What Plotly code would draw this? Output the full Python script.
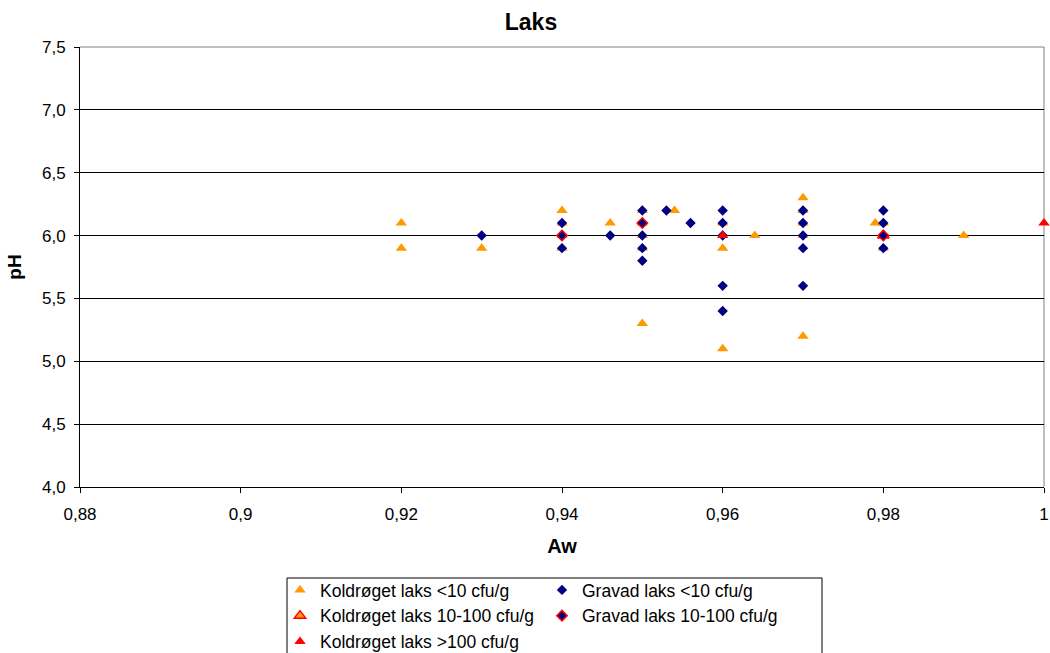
import plotly.graph_objects as go

# ---- data ----
kold_lt10_aw = [0.92, 0.92, 0.93, 0.94, 0.94, 0.94, 0.94, 0.946, 0.95, 0.95, 0.95, 0.95, 0.95,
                0.954, 0.96, 0.96, 0.96, 0.964, 0.97, 0.97, 0.97, 0.97, 0.97, 0.979, 0.98, 0.98, 0.99]
kold_lt10_ph = [6.1, 5.9, 5.9, 6.2, 6.1, 6.0, 5.9, 6.1, 6.2, 6.1, 6.0, 5.9, 5.3,
                6.2, 6.1, 5.9, 5.1, 6.0, 6.3, 6.2, 6.1, 6.0, 5.2, 6.1, 6.1, 5.9, 6.0]

grav_lt10_aw = [0.93, 0.94, 0.94, 0.946, 0.95, 0.95, 0.95, 0.95, 0.953, 0.956,
                0.96, 0.96, 0.96, 0.96, 0.96, 0.97, 0.97, 0.97, 0.97, 0.97, 0.98, 0.98, 0.98]
grav_lt10_ph = [6.0, 6.1, 5.9, 6.0, 6.2, 6.0, 5.9, 5.8, 6.2, 6.1,
                6.2, 6.1, 6.0, 5.6, 5.4, 6.2, 6.1, 6.0, 5.9, 5.6, 6.2, 6.1, 5.9]

kold_10_100_aw = [0.98]
kold_10_100_ph = [6.0]

grav_10_100_aw = [0.94, 0.95, 0.98]
grav_10_100_ph = [6.0, 6.1, 6.0]

kold_gt100_aw = [0.96, 1.0]
kold_gt100_ph = [6.0, 6.1]

x_tickvals = [0.88, 0.90, 0.92, 0.94, 0.96, 0.98, 1.0]
x_ticktext = ["0,88", "0,9", "0,92", "0,94", "0,96", "0,98", "1"]
y_tickvals = [4.0, 4.5, 5.0, 5.5, 6.0, 6.5, 7.0, 7.5]
y_ticktext = ["4,0", "4,5", "5,0", "5,5", "6,0", "6,5", "7,0", "7,5"]

ORANGE = "#FF9900"
NAVY = "#000080"
RED = "#FF0000"
FONT = "Liberation Sans, Arial, sans-serif"

fig = go.Figure()

fig.add_trace(go.Scatter(
    x=kold_lt10_aw, y=kold_lt10_ph, mode="markers", name="Koldrøget laks <10 cfu/g",
    marker=dict(symbol="triangle-up", size=10, color=ORANGE, line=dict(width=0)),
    legend="legend", cliponaxis=False))
fig.add_trace(go.Scatter(
    x=grav_lt10_aw, y=grav_lt10_ph, mode="markers", name="Gravad laks <10 cfu/g",
    marker=dict(symbol="diamond", size=8, color=NAVY, line=dict(width=0)),
    legend="legend2", cliponaxis=False))
fig.add_trace(go.Scatter(
    x=kold_10_100_aw, y=kold_10_100_ph, mode="markers", name="Koldrøget laks 10-100 cfu/g",
    marker=dict(symbol="triangle-up", size=10, color=ORANGE, line=dict(width=1.5, color=RED)),
    legend="legend", cliponaxis=False))
fig.add_trace(go.Scatter(
    x=grav_10_100_aw, y=grav_10_100_ph, mode="markers", name="Gravad laks 10-100 cfu/g",
    marker=dict(symbol="diamond", size=8, color=NAVY, line=dict(width=1.5, color=RED)),
    legend="legend2", cliponaxis=False))
fig.add_trace(go.Scatter(
    x=kold_gt100_aw, y=kold_gt100_ph, mode="markers", name="Koldrøget laks >100 cfu/g",
    marker=dict(symbol="triangle-up", size=10, color=RED, line=dict(width=0)),
    legend="legend", cliponaxis=False))

PW = 964.0
PH = 440.0

def px_x(p):
    return (p - 80) / PW

def px_y(p):
    return (487 - p) / PH

legend_common = dict(
    orientation="v", xanchor="left", yanchor="top",
    bgcolor="rgba(0,0,0,0)", borderwidth=0,
    font=dict(family=FONT, size=17.5, color="black"),
    tracegroupgap=0, itemwidth=30, traceorder="normal",
)

fig.update_layout(
    width=1050, height=653,
    margin=dict(l=80, r=6, t=47, b=166, autoexpand=False),
    paper_bgcolor="white", plot_bgcolor="white",
    font=dict(family=FONT, size=17, color="black"),
    title=dict(text="<b>Laks</b>", x=531 / 1050, xanchor="center", y=1 - 22 / 653,
               yanchor="middle", yref="container", font=dict(size=23, family=FONT)),
    xaxis=dict(range=[0.88, 1.0], tickvals=x_tickvals, ticktext=x_ticktext,
               showgrid=False, zeroline=False, showline=True, linecolor="black", linewidth=1,
               ticks="outside", ticklen=5, tickcolor="black",
               tickfont=dict(size=17), ticklabelstandoff=7,
               title=dict(text="<b>Aw</b>", font=dict(size=20), standoff=15)),
    yaxis=dict(range=[4.0, 7.5], tickvals=y_tickvals, ticktext=y_ticktext,
               showgrid=True, gridcolor="black", gridwidth=1, zeroline=False,
               showline=True, linecolor="black", linewidth=1,
               ticks="outside", ticklen=5, tickcolor="black",
               tickfont=dict(size=17), ticklabelstandoff=5,
               title=dict(text="<b>pH</b>", font=dict(size=19), standoff=15)),
    legend=dict(x=px_x(280), y=px_y(572), **legend_common),
    legend2=dict(x=px_x(542), y=px_y(572), **legend_common),
    showlegend=True,
)

# plot area border (grey top/right) and legend box
fig.add_shape(type="line", xref="paper", yref="paper", x0=0, x1=1, y0=1, y1=1,
              line=dict(color="#808080", width=1), layer="above")
fig.add_shape(type="line", xref="paper", yref="paper", x0=1, x1=1, y0=0, y1=1,
              line=dict(color="#808080", width=1), layer="below")
fig.add_shape(type="rect", xref="paper", yref="paper",
              x0=px_x(287), x1=px_x(822), y0=px_y(665), y1=px_y(578),
              line=dict(color="black", width=1), fillcolor="rgba(0,0,0,0)")

fig.write_html("out.html")
